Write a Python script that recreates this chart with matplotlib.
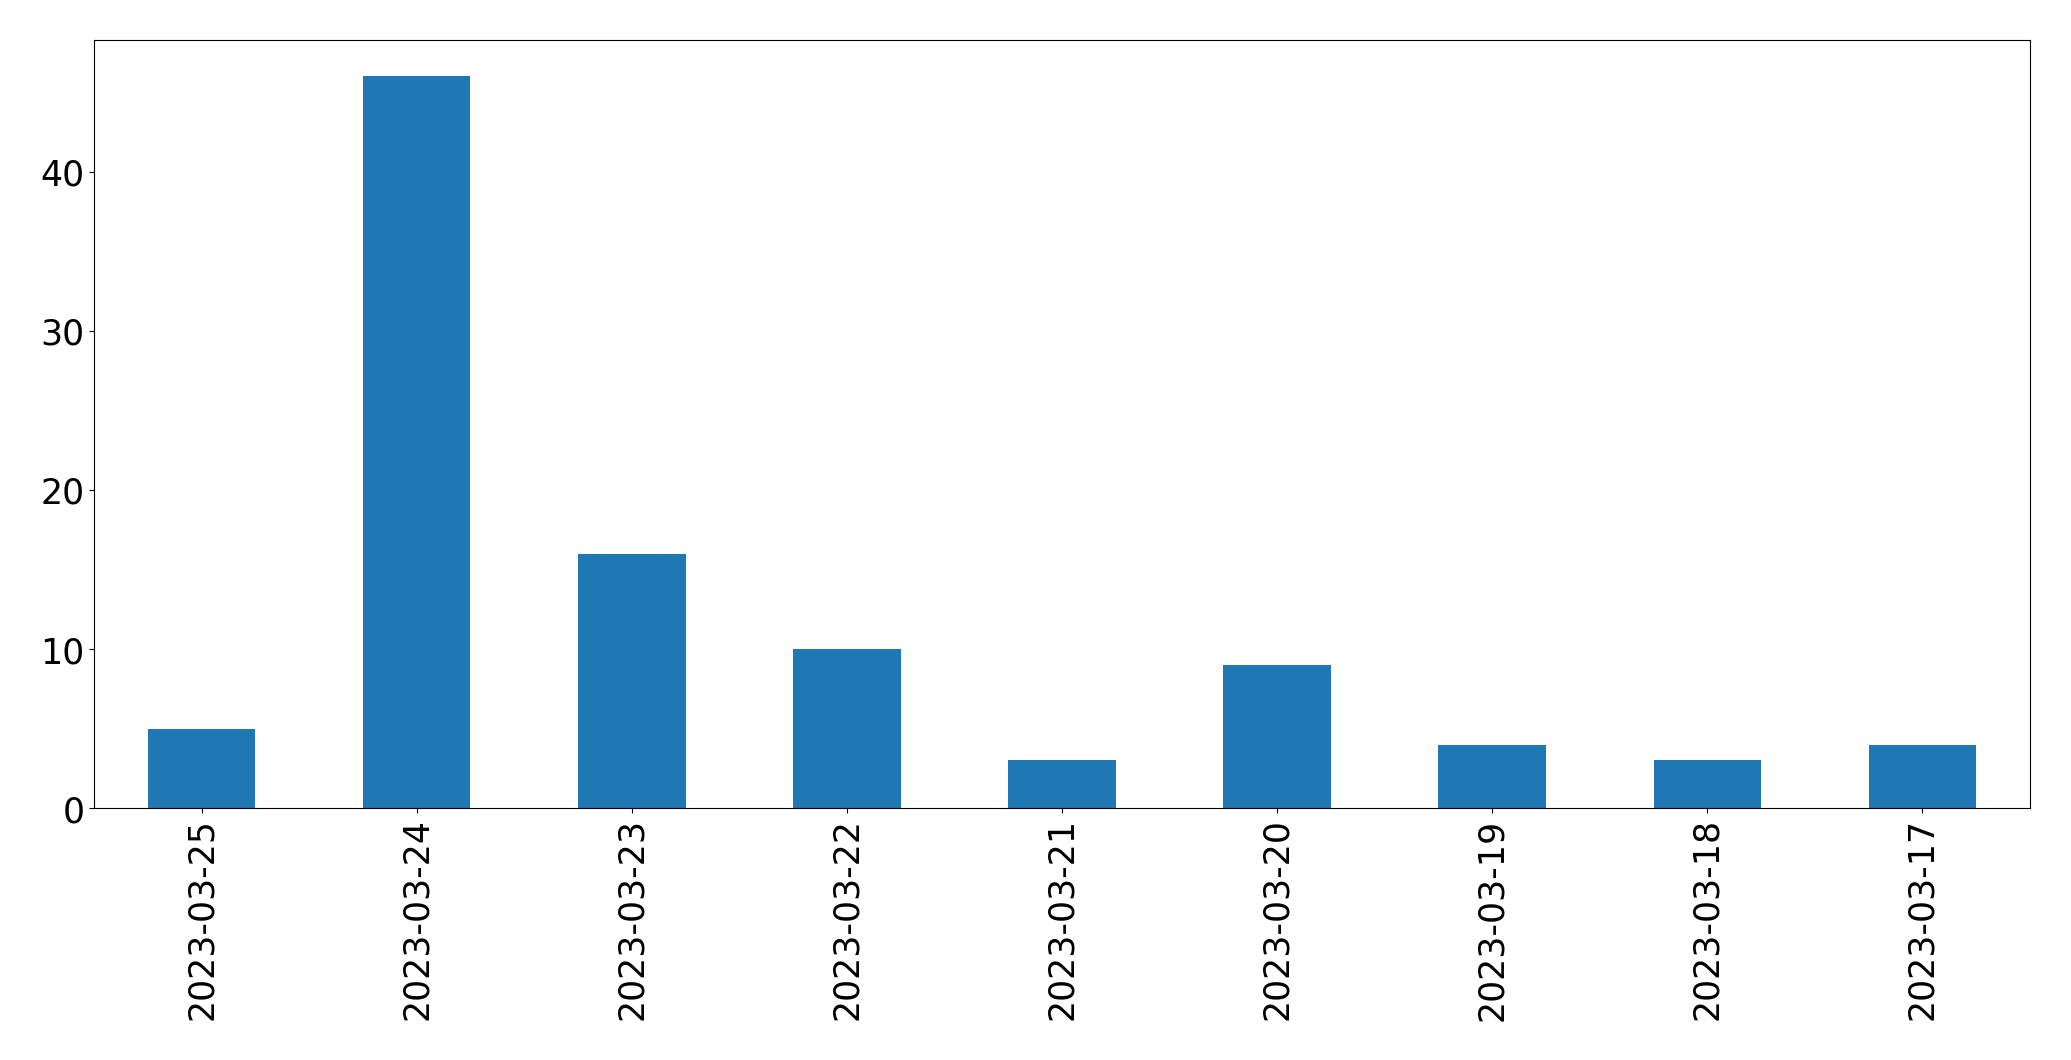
import matplotlib
matplotlib.use("Agg")
import matplotlib.pyplot as plt
import pandas as pd

# daily counts, newest first (as in the source)
dates = ["2023-03-25", "2023-03-24", "2023-03-23", "2023-03-22", "2023-03-21",
         "2023-03-20", "2023-03-19", "2023-03-18", "2023-03-17"]
counts = [5, 46, 16, 10, 3, 9, 4, 3, 4]

s = pd.Series(counts, index=dates)

fig = plt.figure(figsize=(20.71, 10.605), dpi=100)
ax = fig.add_axes([0.0454, 0.2375, 0.9348, 0.7245])
s.plot(kind="bar", ax=ax, color="#1f77b4", fontsize=25)

#plt.show()
fig.savefig("out.png", dpi=100)
